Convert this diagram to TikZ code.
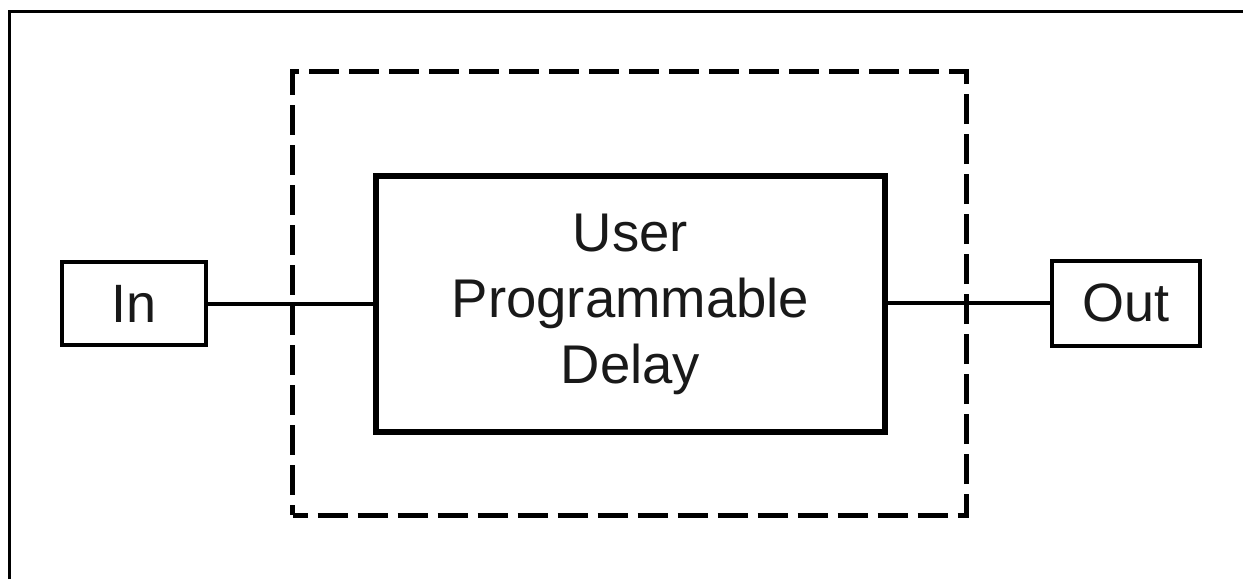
\documentclass[tikz,border=0pt]{standalone}
\usepackage{fontspec}
\setmainfont{Liberation Sans}
\begin{document}
\begin{tikzpicture}[x=1pt,y=-1pt,
  smallbox/.style={draw=black, line width=4pt, inner sep=0pt, font=\fontsize{54}{60}\selectfont, text=black!90},
  mainbox/.style={draw=black, line width=6pt, inner sep=0pt, align=center, font=\fontsize{54.5}{66}\selectfont, text=black!90},
  groupbox/.style={draw=black, line width=5pt, dash pattern=on 30pt off 10pt, dash phase=15pt, inner sep=0pt},
  wire/.style={line width=4pt}]
\useasboundingbox (0,0) rectangle (1243,579);
\fill[white] (0,0) rectangle (1243,579);
\draw[line width=3pt] (9,579) -- (9,11.3) -- (1243,11.3);
\node[groupbox, minimum width=674pt, minimum height=443.3pt] (grp) at (629.5,293.4) {};
\node[mainbox, minimum width=508.5pt, minimum height=255.5pt] (main) at (630.5,304) {User\\Programmable\\Delay};
\node[smallbox, minimum width=143.5pt, minimum height=83.5pt] (in) at (134,303.5) {In};
\node[smallbox, minimum width=147.5pt, minimum height=85pt] (out) at (1126,303) {Out};
\draw[wire] (in.east) -- (in.east -| main.west);
\draw[wire] (main.east |- out.west) -- (out.west);
\end{tikzpicture}
\end{document}
